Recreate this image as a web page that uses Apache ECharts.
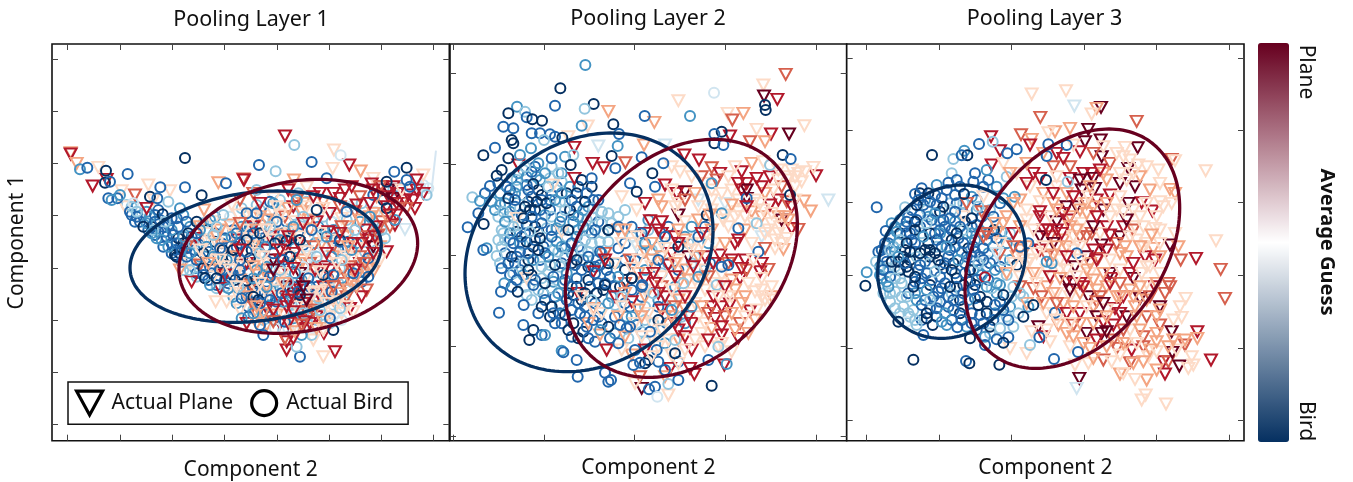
<!DOCTYPE html>
<html><head><meta charset="utf-8">
<script src="https://cdn.jsdelivr.net/npm/echarts@6/dist/echarts.min.js"></script>
<style>html,body{margin:0;padding:0;background:#fff}#c{width:1353px;height:482px}</style>
</head><body><div id="c"></div>
<script>
// Flat lists of: component 2, component 1, average-guess level (0 bird .. 9 plane)
const p1Plane=[735,318,8,92,368,6,92,372,8,110,400,6,175,412,5,158,468,8,200,448,8,245,482,5,285,495,7,325,465,5,390,482,5,340,510,5,255,530,5,320,535,8,882,360,5,878,415,5,928,405,8,962,423,6,762,450,6,610,447,7,612,450,8,535,458,6,492,540,6,1000,445,5,995,462,8,1025,470,8,1045,480,9,1075,490,8,1095,510,8,1125,535,8,1150,435,5,1130,450,8,1150,490,8,1095,598,4,1040,665,8,980,780,7,965,800,8,930,835,8,885,965,8,850,980,5,852,910,8,820,930,5,740,935,8,740,960,8,735,925,7,455,755,8,540,775,8,527,815,5,560,815,5,
640,490,7,700,505,5,745,480,8,800,472,5,880,490,8,915,480,8,960,500,7,1010,500,6,1060,505,9,1085,520,7,1040,530,8,790,520,6,850,515,6,760,530,8,600,510,7,575,525,5,1105,495,8,1070,520,8,1020,470,7,935,470,8,
620,550,5,660,560,6,700,548,5,735,560,7,785,545,6,830,575,8,870,550,8,905,565,5,945,545,7,990,560,6,1025,575,7,1065,585,8,1010,590,8,540,600,6,480,590,6,520,575,5,570,585,6,640,590,8,715,580,5,765,575,5,810,600,6,865,605,8,925,590,6,975,600,8,595,555,5,745,535,6,800,530,5,900,530,7,1040,560,6,
440,650,7,500,630,5,560,650,6,610,625,5,665,640,5,720,615,6,775,640,8,820,650,7,870,630,5,920,620,6,950,655,5,985,630,8,1000,650,9,1015,615,7,470,625,8,530,640,5,590,630,8,640,650,6,690,620,8,750,610,5,845,640,6,890,650,5,
450,700,5,530,690,5,590,680,6,650,670,5,700,690,9,735,710,8,790,690,6,830,695,5,880,680,6,910,720,7,960,700,8,1000,690,6,960,680,7,420,720,6,480,705,7,560,710,5,620,700,8,670,700,5,765,670,8,810,680,4,855,710,8,935,690,5,985,715,6,1020,690,5,
520,740,5,600,750,6,650,735,6,690,745,7,740,770,9,800,740,5,850,770,8,910,760,7,950,740,6,975,720,6,555,735,8,635,765,7,715,745,5,770,760,8,825,720,8,885,740,6,1000,725,6,
620,800,6,680,790,5,760,800,8,820,785,5,835,790,8,810,800,5,880,810,6,920,800,7,590,790,5,650,775,5,715,800,8,790,820,8,950,770,6,860,790,7,770,830,5,
650,850,6,710,855,6,780,870,8,830,860,8,880,840,5,940,845,5,620,880,8,680,885,6,760,890,5,810,880,8,850,875,6,730,850,5,800,845,7,905,850,5,680,835,8,640,825,7,760,845,8,830,830,6];
const p1PlaneFill=[770,510,7,820,500,8,900,505,8,950,525,8,1000,480,8,1060,470,8,1085,480,5,1120,510,8,1130,480,8,1045,500,8,1070,555,8,1050,590,7,640,560,5,680,570,6,720,555,5,760,600,6,810,570,6,850,535,5,905,590,7,960,570,6,1000,550,6,610,600,5,650,600,6,700,630,5,735,650,8,780,620,5,840,610,5,880,650,7,940,640,8,975,620,7,1020,650,6,500,610,5,530,620,6,580,610,5,640,630,5,680,660,8,745,680,5,810,700,7,870,720,8,930,710,7,500,680,5,550,670,5,600,700,5,640,690,5,720,690,8,780,700,6,920,680,5,540,720,6,600,710,5,670,720,6,730,730,5,780,730,9,850,740,6,930,750,6,1000,710,5,610,770,6,680,770,6,710,780,5,770,780,8,860,780,5,900,790,6,600,840,5,670,850,6,740,830,8,820,840,7,870,860,5,920,830,5,650,880,6,720,880,8,800,895,8,850,900,5];
const p1PlaneTop=[660,520,8,710,530,5,840,490,8,990,520,8,1050,555,8,1100,535,7,600,580,7,680,600,5,745,620,8,790,580,8,900,610,8,965,640,8,1005,620,8,480,660,5,540,690,5,600,660,8,670,680,5,720,660,8,800,665,5,860,670,8,925,650,6,975,700,7,1000,670,8,505,700,6,570,720,5,640,710,6,700,720,9,760,715,8,840,725,5,890,700,5,945,720,8,590,770,5,660,760,5,730,760,6,790,770,9,820,790,5,840,785,5,880,770,7,925,780,6,650,830,6,700,840,8,745,810,8,800,810,9,860,820,5,895,815,5,700,875,7,745,880,8,795,875,8,830,895,6,765,905,6,785,885,7,760,925,8];
const p1Bird=[120,418,2,142,413,1,198,422,0,263,432,1,435,384,0,657,405,1,707,424,3,763,345,3,815,396,1,902,376,4,1100,413,0,1063,425,1,558,460,1,435,472,1,361,472,1,485,496,0,
195,458,0,210,455,1,205,505,1,232,505,1,215,510,2,240,495,2,275,530,3,270,545,1,290,560,1,300,575,1,330,500,0,352,505,1,385,515,3,420,535,2,280,520,4,320,580,2,345,575,1,368,553,0,370,590,1,395,600,2,340,600,3,365,630,2,400,615,1,385,650,2,410,640,1,440,575,1,470,575,0,510,570,2,410,680,0,440,680,1,430,620,2,460,640,3,470,610,1,290,545,3,310,590,0,335,610,2,375,575,3,415,590,1,445,610,0,425,660,1,
550,555,3,620,550,1,690,515,1,700,520,2,650,480,3,770,510,2,830,540,0,860,445,1,920,545,1,1040,535,0,1000,495,1,1065,570,2,1110,470,1,1160,495,3,1100,450,1,1040,455,0,
480,600,2,500,650,2,520,615,3,548,660,0,590,610,1,600,640,1,640,610,1,660,610,0,710,575,1,720,630,2,705,640,0,740,632,0,780,630,0,815,600,1,860,620,2,900,630,0,900,635,1,945,600,3,990,560,2,1035,625,3,650,550,1,690,590,3,530,590,3,575,620,2,620,630,0,675,650,2,760,590,2,790,560,3,
470,690,1,490,670,0,490,715,0,520,680,2,560,690,2,600,690,1,630,685,0,660,670,3,700,670,1,750,680,0,790,710,4,875,680,2,905,690,3,985,685,1,450,670,2,540,655,1,580,660,0,620,665,1,680,710,2,730,690,1,830,680,3,935,660,2,
490,735,1,495,745,0,510,765,2,540,720,1,585,750,0,620,752,0,565,775,2,650,720,2,690,740,1,765,730,2,805,745,1,850,735,0,880,735,1,940,730,1,985,740,1,450,720,3,530,745,0,600,720,1,720,720,3,570,740,1,640,745,2,
605,805,1,640,800,0,655,810,0,660,820,1,730,815,2,725,790,1,780,795,0,775,785,1,875,785,1,835,805,3,595,770,3,680,770,2,745,755,3,690,810,1,810,770,1,
605,865,2,660,885,1,735,875,1,790,850,3,870,865,1,900,835,3,880,900,0,670,915,1,780,980,1,770,950,3,815,915,3,785,915,2,705,895,4,840,840,3,905,870,4,640,850,2];
const p1BirdUnder=[260,525,3,290,530,2,300,545,4,330,560,2,355,540,1,395,565,1,430,555,2,285,575,1,325,600,1,355,605,1,385,585,1,410,565,1,450,590,2,490,580,3,525,560,2,570,560,4,605,535,3,650,525,3,720,540,3,690,545,1,760,555,3,800,515,3,850,560,3,890,550,4,930,530,4,965,520,3,1005,545,4,350,625,2,380,620,1,405,660,1,430,640,0,455,620,1,495,630,1,525,635,0,555,625,1,605,590,2,635,575,3,665,585,2,745,600,3,775,610,1,835,620,3,880,600,2,925,610,3,965,625,4,1005,600,3,405,675,0,425,695,1,465,660,1,505,665,1,535,680,1,575,680,0,645,640,1,685,630,1,765,655,2,800,660,3,850,650,4,895,660,1,925,635,1,975,665,3,1010,660,3,430,720,3,465,715,2,510,710,1,545,700,0,585,710,1,610,700,1,655,695,2,700,710,3,745,700,1,770,695,2,820,710,3,860,690,4,900,715,3,955,710,3,1000,700,2,470,740,3,515,730,1,555,750,1,600,735,1,625,730,1,670,735,1,705,755,2,735,745,3,785,750,2,830,755,3,865,745,1,905,745,2,965,755,1,530,775,3,565,760,1,610,780,1,640,770,1,665,790,1,700,780,3,755,790,2,800,790,2,845,780,1,900,780,3,930,775,4,590,820,2,625,830,1,680,825,2,710,815,1,755,825,3,815,825,3,850,815,2,880,825,3,915,815,3,625,860,1,690,860,2,760,865,2,830,870,3,870,880,3,730,900,3,790,895,4,700,870,1];
const p1BirdFill=[275,555,1,305,555,3,320,545,2,345,555,1,335,590,0,360,570,1,375,605,1,345,615,1,395,640,1,370,650,1,415,625,0,395,670,1,420,670,0,440,655,1,445,700,3,480,645,1,480,680,2,510,690,0,470,730,1,505,750,1,530,765,1,555,770,3,580,800,2,560,720,2,525,610,1,500,600,0,555,600,2,545,640,1,590,650,1,615,610,3,650,625,2,635,660,0,670,625,1,700,600,3,730,610,1,755,625,0,790,645,1,825,640,2,855,605,0,885,625,1,915,650,3,950,640,2,990,620,3,1025,600,3,580,735,1,610,760,1,650,755,0,680,755,1,720,770,2,760,770,1,790,770,0,830,770,1,860,760,2,895,760,3,935,755,3,975,725,2,1000,680,3,645,790,1,620,800,1,680,800,1,710,800,2,750,810,1,790,810,2,830,815,3,870,800,3,640,840,3,680,850,1,725,845,2,760,850,3,800,860,3,845,855,3,890,850,4,670,870,3,745,895,4,820,895,4,630,590,1,580,600,1,620,590,1,700,570,3,740,575,1,780,580,3,835,590,2,875,575,3,920,570,3,960,575,2,1000,575,3,660,540,3,720,510,3,775,490,3,1030,510,0,1060,480,3,1080,475,2,1140,470,4,1165,475,4,1150,465,4];
const p1Streak=[1188,362,1172,505];
const p2Plane=[1022,133,7,955,165,5,957,198,9,997,208,8,700,212,5,848,250,5,895,250,6,490,244,6,628,277,6,428,288,5,862,270,7,1078,287,5,1032,312,9,978,312,8,855,318,8,935,298,5,915,335,7,960,335,6,370,320,5,388,352,8,460,348,4,597,345,6,660,345,4,718,375,8,762,390,8,443,400,8,476,413,8,541,398,7,220,405,8,388,445,8,325,465,5,800,413,7,825,430,8,705,425,5,680,410,5,1113,437,8,1105,412,5,1040,420,5,1060,430,5,1080,425,5,1150,510,4,1097,543,6,1077,513,6,1060,598,7,1015,658,6,990,655,5,
890,425,8,935,445,8,975,440,8,905,460,8,850,440,5,780,460,5,860,480,5,905,505,9,975,525,8,1000,510,8,1025,515,7,1040,530,8,1010,570,9,1040,595,8,950,560,6,920,545,6,880,545,5,840,520,4,800,480,5,720,485,9,695,490,8,660,465,8,640,510,6,600,520,8,530,500,5,575,540,5,
700,555,9,720,575,5,650,575,8,615,572,8,760,570,6,800,600,6,850,590,5,900,600,6,950,620,4,1000,610,5,1025,625,5,960,655,7,870,640,8,825,675,8,730,680,9,680,670,8,650,640,5,600,610,8,570,640,5,520,600,6,480,670,7,510,700,5,445,725,8,575,650,4,620,690,6,
900,690,8,885,745,8,945,725,8,970,718,7,830,735,5,780,720,5,720,720,6,670,705,8,620,710,5,580,730,6,600,745,8,540,760,7,510,800,8,400,790,8,560,815,8,470,850,5,445,835,6,430,880,6,660,800,8,650,840,8,700,810,6,740,790,5,780,780,5,805,800,8,860,750,6,930,785,5,980,800,6,
830,830,8,855,822,8,915,843,8,885,880,7,975,810,5,810,865,8,760,860,5,740,880,8,720,835,6,690,880,8,660,860,6,610,850,5,570,880,5,520,860,6,465,915,6,770,910,5,830,915,8,800,895,6,700,930,6,880,925,8,910,910,6,
485,960,8,560,975,6,530,960,5,740,960,8,640,950,5,680,975,5,720,960,5,675,1015,8,735,1015,8,748,1033,8,838,1005,8,590,1075,9,585,1040,7,570,1060,5,670,1095,5,820,950,5,860,965,5,
1000,560,6,985,480,5,1050,470,5,1070,455,5,1030,450,5,960,490,6,930,510,5,800,510,5,760,510,4,700,520,5,840,555,5,880,510,5,810,640,5,770,640,5,720,630,6,690,620,8,640,600,8,970,600,5,925,580,5,780,680,8,850,700,7,700,760,6,750,750,5,650,770,7,600,800,6,810,760,5,900,800,6,860,800,5,950,780,5,960,810,5,350,605,5,215,565,5,245,745,5];
const p2PlaneFill=[870,410,5,920,400,6,955,395,5,1000,420,5,1030,440,5,1050,510,5,1010,470,7,950,470,8,890,480,8,815,450,7,770,440,7,740,440,5,680,480,5,720,510,7,760,530,5,800,540,5,860,525,6,900,560,5,945,520,5,980,550,5,1030,570,6,650,530,6,690,530,5,650,610,8,700,600,6,740,640,5,785,610,5,840,640,6,880,630,8,920,640,5,990,630,5,530,640,5,555,690,7,600,665,6,650,680,6,700,690,5,760,680,6,805,700,8,860,690,8,905,720,7,950,700,8,560,715,5,650,740,5,690,740,8,730,750,6,770,750,6,830,760,5,870,780,6,910,760,5,950,800,5,980,770,5,540,790,6,600,780,5,640,790,8,690,830,7,750,820,5,800,830,8,850,800,5,890,820,6,935,840,5,580,840,6,620,880,5,680,860,6,730,860,8,780,880,5,840,860,7,870,900,6,930,870,6,540,920,6,620,920,5,670,930,5,720,920,8,780,950,5,830,940,5,600,960,8,700,1000,5,660,1040,6];
const p2PlaneTop=[540,600,6,575,620,5,620,640,6,660,655,5,700,640,8,740,660,5,770,610,8,795,555,6,835,570,5,870,560,5,905,530,8,955,540,5,980,580,5,1005,590,5,580,690,5,625,730,8,690,700,6,745,710,8,790,740,7,840,770,8,890,715,8,925,690,5,950,745,5,530,830,5,590,860,6,630,760,8,680,780,5,720,800,8,770,830,6,820,800,5,860,850,6,900,860,5,790,850,7,650,900,5,700,900,8,750,930,5,790,930,8,830,890,8,590,920,5,620,980,5,750,490,6,830,490,5,905,480,9,880,460,8,1000,450,5,1050,440,5,1020,560,6,960,610,5,1010,640,5,480,690,8,445,840,5,410,800,5];
const p2Bird=[421,105,2,346,175,0,446,222,0,330,227,1,419,236,3,216,230,2,240,245,3,190,250,0,245,262,1,262,268,0,291,272,0,175,290,1,205,295,1,410,287,2,505,283,0,522,312,1,599,258,1,735,258,2,807,188,4,960,225,0,962,240,0,830,305,0,808,312,1,808,340,0,835,345,1,260,310,1,285,310,1,315,313,1,330,320,1,352,323,0,205,340,0,200,330,0,150,353,1,115,376,0,190,385,0,225,375,2,258,355,2,297,330,3,320,385,1,360,380,2,385,375,3,377,405,0,500,378,0,518,348,2,511,415,1,590,382,1,655,400,1,622,430,0,1013,375,0,1037,387,1,975,405,3,
170,420,0,155,437,0,135,468,1,120,490,1,82,502,3,105,513,2,140,515,2,150,540,2,100,550,1,116,582,0,68,592,1,125,655,2,115,660,1,155,678,3,170,715,1,178,760,2,168,785,1,218,785,0,236,825,1,162,848,1,235,885,1,265,900,0,253,930,0,290,915,1,300,915,2,350,962,2,355,967,1,395,990,1,398,1040,1,480,1028,1,490,1055,1,498,1050,1,600,1000,0,630,1070,1,612,1078,1,637,1100,4,670,1062,3,700,1050,1,800,1067,0,845,1002,2,
220,430,2,260,425,1,300,430,2,340,430,3,410,450,0,440,445,1,190,505,0,215,470,2,265,462,0,250,480,1,310,470,3,350,490,2,380,510,1,420,515,0,445,510,1,240,410,3,280,400,2,175,545,3,210,510,1,240,530,0,275,515,0,305,520,0,330,510,2,360,540,3,400,560,2,440,560,3,470,545,3,
180,575,2,205,590,3,235,565,0,260,560,1,290,580,1,320,560,3,345,575,2,370,600,0,415,590,2,450,600,1,490,600,0,180,630,3,205,640,1,230,620,1,255,605,3,285,625,0,320,620,1,350,650,2,380,640,1,420,630,3,465,635,3,
200,680,0,225,665,1,250,670,1,280,660,0,310,680,2,330,705,0,360,680,3,395,690,0,430,680,1,465,665,1,490,700,0,190,700,1,250,720,0,290,710,3,325,740,1,365,730,2,410,720,1,450,730,1,480,760,1,520,740,2,
215,750,1,265,765,1,300,760,0,340,790,2,380,770,1,420,790,0,455,790,0,480,765,0,560,745,0,592,765,1,365,810,1,400,820,1,440,810,3,490,820,2,530,800,3,290,830,0,325,850,1,360,855,0,405,850,1,445,870,1,490,890,0,525,885,1,555,890,1,330,880,1,370,900,0,400,925,0,430,925,1,465,900,2,615,905,1,640,870,0,520,940,1,
590,610,1,520,590,1,490,600,0,555,460,1,575,485,0,630,470,1,540,540,3,470,545,3,600,640,2,660,620,1,700,650,0,740,590,2,760,620,1,785,555,0,800,460,2,830,550,2,880,595,1,935,580,3,905,505,1,1035,495,0,940,665,1,830,710,1,850,705,1,760,740,2,715,760,3,815,765,3,640,690,1,590,770,1,560,745,0,680,840,2,625,790,3,
635,960,1,690,970,0,640,995,1,585,998,1,565,1005,1,690,930,3,660,1020,1,570,960,1,820,950,3,790,990,1,740,830,2];
const p2BirdUnder=[215,450,3,245,440,2,285,450,2,315,445,3,350,455,3,375,470,2,165,490,2,195,480,1,230,495,3,260,500,1,290,495,0,320,495,1,345,515,3,395,490,0,425,490,1,160,560,3,195,545,2,225,535,3,255,540,0,285,540,1,315,540,1,375,540,0,415,540,2,445,535,3,170,600,3,195,610,2,220,585,3,245,585,1,270,590,0,305,595,3,335,595,2,385,575,2,430,600,3,470,580,3,170,650,3,225,640,2,245,635,0,270,630,1,305,640,3,335,635,2,365,620,3,395,620,2,440,640,3,490,635,3,165,700,3,210,700,1,235,700,3,265,690,2,300,670,1,340,665,3,380,670,2,410,660,3,455,690,2,205,730,3,235,735,2,270,750,1,310,725,3,345,710,3,390,705,1,430,710,0,465,705,1,240,770,3,280,780,3,320,775,3,355,760,2,395,745,1,430,750,0,460,760,1,495,740,1,525,770,0,260,810,3,300,810,1,345,825,2,385,795,0,420,830,1,465,835,2,510,825,3,555,830,1,320,830,0,350,880,1,385,880,0,425,890,1,460,860,1,510,910,2,550,925,3,590,905,3,625,880,3,520,560,3,560,590,1,610,600,3,640,650,2,670,590,1,720,620,2,780,590,1,570,690,1,600,720,2,540,720,0,650,730,3,690,770,2,740,700,3,780,720,3,590,800,1,640,830,1,560,860,2,600,870,3,650,900,3,600,935,3,660,940,2,710,860,3];
const p2BirdFill=[200,445,1,235,420,3,270,410,1,320,410,3,350,430,2,275,440,2,245,465,1,185,470,1,160,460,1,210,490,2,280,480,0,335,470,1,365,490,0,400,470,1,440,470,0,180,520,2,210,530,1,250,515,0,290,510,1,315,510,1,360,515,3,395,530,1,430,530,2,460,510,1,165,525,2,190,560,3,230,555,1,270,540,0,300,555,2,350,560,1,385,555,1,425,570,3,460,575,1,490,550,3,175,610,3,215,605,0,240,610,1,280,605,0,320,600,1,355,600,3,400,600,2,440,610,1,475,610,3,500,580,3,160,630,3,195,630,1,235,645,3,265,650,0,295,650,1,325,660,2,360,655,1,400,650,1,430,665,3,470,670,2,180,670,1,215,680,1,250,690,0,285,690,1,315,705,3,350,700,1,380,700,0,415,690,2,450,710,1,485,720,1,510,700,2,195,735,1,225,720,1,260,735,0,290,745,3,325,755,2,360,750,1,395,770,0,435,770,1,475,780,0,510,770,1,200,770,1,245,795,3,295,790,2,330,800,1,370,790,0,410,810,0,450,820,1,500,800,2,540,820,1,280,850,1,315,860,0,345,850,1,380,840,1,420,860,1,470,880,1,510,860,1,545,860,2,380,920,1,415,905,0,450,935,1,495,925,1,545,895,1,575,885,1,540,640,1,590,670,1,620,660,3,630,710,1,670,700,2,700,720,1,730,640,3,750,680,3,790,640,2,795,700,1,610,570,2,560,620,3,520,655,1,540,690,1,560,780,1,600,830,3,640,810,2,680,810,3,720,880,2,665,880,1,700,995,1,610,990,0];
const p3Plane=[575,192,5,678,182,5,703,228,4,783,232,9,770,235,6,755,252,5,601,262,7,890,274,7,745,298,9,645,305,6,625,308,5,690,295,6,735,335,9,782,330,9,543,314,7,453,320,8,575,328,6,570,345,8,480,362,8,720,365,8,650,370,8,893,353,9,855,352,5,995,388,7,1005,392,5,1097,422,5,955,420,5,865,415,9,895,405,5,840,460,9,885,470,9,930,480,6,990,478,6,1005,490,6,995,520,5,905,518,8,937,543,8,960,515,5,865,520,9,680,530,9,710,530,9,
455,405,8,490,400,5,580,430,8,530,430,5,640,410,7,690,410,7,730,430,8,755,430,8,785,380,9,810,400,7,790,350,5,725,480,9,765,475,9,770,510,8,810,495,8,650,470,5,610,490,6,570,470,5,540,510,6,600,515,5,
430,500,5,380,520,7,425,545,7,370,560,5,490,580,6,520,610,8,470,610,6,600,560,8,650,575,9,685,570,8,725,580,5,755,610,7,800,590,8,850,590,8,885,590,5,945,595,5,1005,610,5,1128,632,5,
785,645,9,840,620,9,990,645,9,1015,650,6,1022,690,7,1068,685,8,940,655,6,915,680,8,945,690,8,890,630,5,840,670,6,775,685,7,740,680,9,705,710,9,670,630,6,630,620,7,600,660,8,560,650,6,540,660,6,480,670,7,430,695,4,1142,718,7,
560,700,5,620,680,7,660,720,5,750,730,5,810,730,9,815,745,8,880,745,9,930,710,5,985,760,7,990,770,7,945,770,8,960,830,9,1155,805,7,1037,805,5,900,805,9,850,800,8,800,770,6,735,760,6,680,755,9,700,760,8,620,770,6,580,775,7,
560,820,6,605,800,7,650,790,5,690,800,5,745,800,9,770,815,7,825,835,8,860,860,9,920,860,7,1020,830,5,1025,862,5,960,885,7,995,905,9,1072,905,8,1072,925,6,1035,945,7,1035,930,6,950,910,6,
595,890,9,655,885,6,700,885,7,720,850,8,790,875,8,820,885,8,740,910,9,785,910,9,610,920,8,575,905,5,630,935,5,560,970,5,510,955,5,690,950,5,830,955,7,875,960,8,910,950,7,925,980,5,870,900,5,
790,990,7,745,1000,5,705,1005,5,815,995,5,870,998,7,910,995,6,970,995,8,985,995,7,997,967,9,1018,1008,9,1113,990,8,1055,980,5,1060,1005,5,1045,1015,5,975,1032,8,950,1020,6,920,1050,6,885,1048,5,840,1032,6,718,1045,9,710,1075,4,917,1095,5,905,1110,5,978,1122,5,
610,600,8,640,640,9,680,650,6,720,620,7,880,600,7,920,640,5,960,600,5,700,660,5,760,660,8,660,690,5,590,730,5,720,790,6,760,830,6,800,840,5,840,720,5,880,800,6,920,760,5,640,850,5,670,820,6,740,720,6,690,560,6,830,540,5,790,430,6,860,450,5,850,380,5,800,450,6,730,520,5,640,520,6,560,570,5];
const p3PlaneFill=[510,430,6,560,400,6,610,370,6,670,385,8,700,345,5,760,370,7,830,370,5,870,390,5,920,410,5,560,460,8,600,445,8,650,440,5,690,445,8,760,445,9,840,430,5,900,440,6,960,460,5,640,490,8,680,490,6,740,520,6,790,540,9,840,500,5,880,540,5,920,520,5,970,530,5,630,560,5,670,550,8,720,540,6,760,530,6,810,560,5,860,570,9,910,590,5,600,620,9,650,600,8,690,590,6,740,620,7,780,610,5,830,640,7,870,620,5,960,640,5,530,680,6,570,690,5,610,650,5,650,650,6,720,650,5,750,700,6,800,660,8,860,680,6,910,650,5,960,680,6,580,730,6,620,720,5,680,720,5,720,760,8,770,780,6,810,760,8,870,730,8,905,730,5,960,730,5,540,770,7,640,790,6,690,780,9,730,770,8,780,800,7,830,800,6,870,780,6,920,810,6,975,790,7,620,850,5,680,850,8,720,880,6,770,860,9,800,860,6,840,850,8,890,860,6,950,860,6,1000,870,5,680,910,6,730,940,6,770,930,8,820,930,7,860,940,6,910,920,7,985,950,6,930,960,6,760,985,6,840,975,5,880,1000,6,950,965,5,1010,960,5,850,1030,5];
const p3PlaneTop=[520,520,6,560,540,5,600,545,8,650,540,6,700,500,8,745,500,5,800,520,6,850,545,5,900,560,5,950,560,5,500,560,6,540,590,6,580,600,5,625,600,8,665,610,8,700,620,5,760,590,9,810,615,8,855,650,6,900,650,6,935,615,6,440,610,7,480,640,5,520,650,7,550,690,5,590,670,5,640,675,6,680,680,8,720,690,5,770,690,8,810,690,5,880,700,8,920,710,5,500,730,6,540,740,5,590,760,5,630,740,8,660,745,6,710,740,5,760,750,6,790,730,6,840,760,7,900,770,6,950,760,6,470,670,4,430,620,7,520,700,5,465,580,6,610,820,6,650,820,7,700,830,6,740,830,5,790,820,9,840,800,6,885,830,6,930,800,7,960,840,6,650,870,5,690,880,5,760,880,6,800,905,9,850,900,7,900,900,6,950,935,6,1000,930,6,700,920,6,750,955,6,800,950,6,850,940,6,890,940,5,620,900,5,710,600,6,740,550,6,770,560,8,880,430,5,780,420,8,720,450,9,750,470,6];
const p3Bird=[276,375,0,340,387,3,373,362,2,382,376,0,365,376,1,417,342,1,458,335,3,625,343,1,680,345,1,620,378,1,530,358,1,502,370,1,405,430,1,335,430,3,350,450,1,325,458,1,290,465,2,245,475,1,225,492,1,265,490,0,110,532,1,195,532,3,155,580,2,137,603,1,225,575,0,80,727,2,76,767,0,115,665,1,108,695,3,618,450,0,683,455,3,524,500,2,445,450,1,440,420,2,
235,510,1,270,515,1,305,505,1,345,495,1,372,492,0,230,525,0,310,530,0,345,545,1,395,565,0,440,580,2,462,600,0,180,570,2,200,575,1,225,600,0,260,580,3,285,550,2,310,570,1,360,590,1,150,620,2,175,640,2,215,630,1,250,620,2,290,630,1,335,630,0,370,640,1,405,630,2,430,655,1,470,625,1,
130,680,1,155,695,0,180,720,0,210,665,0,240,670,0,270,660,0,295,690,0,325,680,1,355,690,2,395,680,1,430,690,1,465,720,2,530,705,0,540,650,1,565,640,1,710,670,1,635,700,2,130,720,1,225,740,0,260,730,1,300,740,1,335,720,0,375,730,1,410,750,1,435,742,8,455,775,3,195,700,1,165,745,3,
145,770,2,185,760,3,220,770,0,260,780,2,295,785,1,330,770,0,370,790,1,400,780,1,440,770,2,490,795,0,540,790,3,150,815,3,190,830,3,230,810,2,260,850,0,290,835,1,315,850,2,370,830,1,415,825,0,465,825,1,580,825,0,645,848,1,175,875,0,225,870,3,230,885,3,278,885,0,305,875,2,352,892,1,365,870,1,430,880,1,
250,915,1,390,925,0,435,920,2,450,890,0,480,895,3,505,870,1,550,860,0,505,922,1,470,928,1,490,938,0,435,945,1,570,945,3,598,922,1,220,989,0,378,993,1,388,1000,0,478,1004,0,642,987,1,714,966,1,
200,640,0,240,705,1,285,725,3,320,650,2,350,610,0,150,660,3,175,680,2,200,800,3,270,810,3,340,810,1,390,720,0,415,700,3,470,760,2,520,770,3,620,695,2,500,640,2,460,560,1,415,530,3,480,520,1];
const p3BirdUnder=[260,540,3,290,525,1,330,520,3,370,520,3,410,510,1,205,560,1,240,555,1,275,570,1,315,590,1,345,575,2,395,590,1,425,560,1,170,605,2,200,610,1,240,590,1,270,610,0,300,600,1,335,600,1,380,610,2,420,605,2,135,640,1,160,650,2,195,660,0,225,640,1,265,640,0,305,650,1,345,650,1,385,655,0,420,680,1,460,650,2,510,610,3,120,710,2,145,715,3,175,695,0,210,690,0,255,695,1,285,670,0,315,700,1,375,700,1,405,665,1,440,710,2,490,690,3,125,745,2,150,740,1,205,725,0,245,745,1,275,750,1,310,715,1,350,745,0,390,755,0,425,735,2,500,735,3,130,790,3,165,785,3,205,790,1,240,760,1,280,800,1,315,760,1,350,770,1,385,810,2,420,800,0,470,790,2,515,800,3,165,835,3,205,850,3,245,825,1,300,815,1,340,840,1,395,850,1,440,850,0,490,840,1,535,850,3,565,830,2,200,875,4,260,865,0,335,870,1,395,880,1,460,870,1,520,890,3,480,895,4,300,610,2,180,630,3,230,680,3,270,700,3,335,790,3,400,720,2,370,600,3];
const p3BirdFill=[240,490,0,255,510,2,285,495,1,320,480,1,360,470,1,400,455,1,430,470,1,470,470,2,500,440,3,395,500,2,350,520,1,215,540,1,250,525,1,300,545,0,335,540,3,370,550,1,410,540,2,450,540,3,490,505,2,165,590,2,195,590,1,230,570,1,265,560,2,300,575,2,330,565,1,375,575,0,410,585,1,445,610,1,145,640,1,180,610,0,210,610,1,245,610,3,285,610,1,320,620,1,355,625,1,395,610,2,440,630,1,485,605,2,125,660,1,165,665,2,190,680,0,225,665,1,255,660,0,290,650,3,330,660,1,365,665,2,400,650,1,445,670,2,140,695,1,165,710,3,200,710,0,235,720,1,270,680,0,300,705,0,340,700,0,380,680,1,415,720,1,450,700,1,480,710,1,510,690,2,120,735,2,140,755,2,180,745,3,225,755,1,270,765,0,305,775,1,345,730,1,370,765,0,405,765,0,445,750,1,480,765,2,150,790,3,185,800,3,225,790,2,255,810,1,290,815,3,325,800,1,360,810,0,405,805,1,440,815,0,480,815,1,510,830,2,180,850,3,220,840,3,270,835,1,325,830,1,360,850,0,420,855,1,465,850,2,500,860,3,550,800,3,210,860,3,245,870,1,290,860,1,320,885,2,380,890,2,410,900,1,450,910,3];
const axisTicks={p1x:[83,240,397,554,711,868,1025,1181],p1y:[87,243,400,557,714,871,1027,1184],p2x:[25,297,569,841,1113],p2y:[131,403,675,948,1219],p3x:[80,297,515,733,950,1168],p3y:[84,300,518,736,955,1172]};
const axisRanges=[{x:[36,1228],y:[42,1232]},{x:[15,1205],y:[42,1232]},{x:[20,1212],y:[42,1232]}];
// Ellipses: centre, half-width, half-height, correlation
const p1BirdEllipse=[647,680,377,197,-0.17], p1PlaneEllipse=[775,679,358,231,-0.17];
const p2BirdEllipse=[432,667,372,358,-0.18], p2PlaneEllipse=[709,685,348,357,-0.28];
const p3BirdEllipse=[335,695,222,230,-0.14], p3PlaneEllipse=[697,656,322,359,-0.34];
const guessColors=['#053061','#2166ac','#4393c3','#92c5de','#d1e5f0','#fddbc7','#f4a582','#d6604d','#b2182b','#67001f'];
const panelNames=['Pooling Layer 1','Pooling Layer 2','Pooling Layer 3'];
const FONT='"Noto Sans"';
const INVTRI='path://M0 0L12 0L6 11Z';

function triples(a){const o=[];for(let i=0;i+2<a.length;i+=3)o.push({value:[a[i],a[i+1],a[i+2]],itemStyle:{borderColor:guessColors[a[i+2]]}});return o;}
function marks(name,g,arr,symbol,size){return {type:'scatter',name,xAxisIndex:g*2,yAxisIndex:g*2,symbol,symbolSize:size,data:triples(arr),silent:true,
  itemStyle:{color:'rgba(255,255,255,0)',borderWidth:2,opacity:1},z:3};}
function ellipse(g,p,color){const [cx,cy,wx,wy,r]=p,d=[];for(let i=0;i<=180;i++){const t=i/180*2*Math.PI;d.push([cx+wx*Math.cos(t),cy+wy*(r*Math.cos(t)+Math.sqrt(1-r*r)*Math.sin(t))]);}
  return {type:'line',xAxisIndex:g*2,yAxisIndex:g*2,data:d,showSymbol:false,silent:true,lineStyle:{color,width:3.3},z:5};}

const grids=[{left:52,top:44,width:397.3,height:396.7},{left:450,top:44,width:396.7,height:396.7},{left:846.7,top:44,width:397.3,height:396.7}];
const tickKeys=[['p1x','p1y'],['p2x','p2y'],['p3x','p3y']];
const xAxes=[],yAxes=[];
const tickStyle=(vals)=>({show:true,inside:true,length:6,customValues:vals,lineStyle:{color:'#444',width:1}});
grids.forEach((gr,i)=>{const [kx,ky]=tickKeys[i];const r=axisRanges[i];
  [['bottom'],['top']].forEach(([pos],j)=>xAxes.push({type:'value',gridIndex:i,position:pos,min:r.x[0],max:r.x[1],splitLine:{show:false},axisLine:{show:false},axisLabel:{show:false},axisTick:tickStyle(axisTicks[kx]),
    name:j===0?'Component 2':'',nameLocation:'middle',nameGap:i===0?19:17,nameTextStyle:{fontFamily:FONT,fontSize:21,color:'#111'}}));
  [['left'],['right']].forEach(([pos],j)=>yAxes.push({type:'value',gridIndex:i,position:pos,inverse:true,min:r.y[0],max:r.y[1],splitLine:{show:false},axisLine:{show:false},axisLabel:{show:false},axisTick:tickStyle(axisTicks[ky]),
    name:(i===0&&j===0)?'Component 1':'',nameLocation:'middle',nameRotate:90,nameGap:24,nameTextStyle:{fontFamily:FONT,fontSize:21,color:'#111'}}));
});
function panel(g,birdFill,birdUnder,plane,planeFill,bird,planeTop,birdName,planeName){const T=[12,11];return [
 marks('Bird fill '+(g+1),g,birdFill,'circle',10),marks('Bird under '+(g+1),g,birdUnder,'circle',10),marks(planeName,g,plane,INVTRI,T),marks('Plane fill '+(g+1),g,planeFill,INVTRI,T),marks(birdName,g,bird,'circle',10),marks('Plane top '+(g+1),g,planeTop,INVTRI,T)];}
const series=[
 ...panel(0,p1BirdFill,p1BirdUnder,p1Plane,p1PlaneFill,p1Bird,p1PlaneTop,'Actual Bird','Actual Plane'),
 {type:'line',xAxisIndex:0,yAxisIndex:0,data:[[p1Streak[0],p1Streak[1]],[p1Streak[2],p1Streak[3]]],showSymbol:false,silent:true,lineStyle:{color:'#d6e6f2',width:2},z:2},
 ellipse(0,p1BirdEllipse,'#053061'),ellipse(0,p1PlaneEllipse,'#67001f'),
 ...panel(1,p2BirdFill,p2BirdUnder,p2Plane,p2PlaneFill,p2Bird,p2PlaneTop,'Bird 2','Plane 2'),ellipse(1,p2BirdEllipse,'#053061'),ellipse(1,p2PlaneEllipse,'#67001f'),
 ...panel(2,p3BirdFill,p3BirdUnder,p3Plane,p3PlaneFill,p3Bird,p3PlaneTop,'Bird 3','Plane 3'),ellipse(2,p3BirdEllipse,'#053061'),ellipse(2,p3PlaneEllipse,'#67001f')
];
const chart=echarts.init(document.getElementById('c'),null,{renderer:'canvas'});
chart.setOption({animation:false,backgroundColor:'#fff',
 title:panelNames.map((t,i)=>({text:t,left:[246,643,1039.5][i],top:[4,3,3][i],textAlign:'center',textStyle:{fontFamily:FONT,fontSize:21.5,fontWeight:'normal',color:'#111'}})),
 grid:grids.map(g=>Object.assign({show:true,outerBoundsMode:'none',containLabel:false,borderColor:'#111',borderWidth:1.6,backgroundColor:'#fff'},g)),
 xAxis:xAxes,yAxis:yAxes,series,
 legend:{left:68,top:382,orient:'horizontal',padding:[7,15,7,7],itemWidth:26,itemHeight:25,itemGap:17,backgroundColor:'#fff',borderColor:'#111',borderWidth:1.5,borderRadius:0,selectedMode:false,z:20,
   textStyle:{fontFamily:FONT,fontSize:21,color:'#111',padding:[2,0,0,4]},
   data:[{name:'Actual Plane',icon:'path://M0 0L12 0L6 11Z',itemStyle:{color:'rgba(0,0,0,0)',borderColor:'#000',borderWidth:3.2}},
         {name:'Actual Bird',icon:'circle',itemStyle:{color:'rgba(0,0,0,0)',borderColor:'#000',borderWidth:3.2}}]},
 visualMap:{type:'continuous',seriesIndex:[],min:0,max:1,show:true,calculable:false,left:1258,top:43,itemWidth:31,itemHeight:399,padding:0,text:null,showLabel:false,inRange:{color:['#053061','#ffffff','#67001f']}},
 graphic:[
  {type:'text',x:1306,y:72,rotation:-Math.PI/2,style:{text:'Plane',fontFamily:FONT,fontSize:21,fill:'#111',align:'center',verticalAlign:'middle'}},
  {type:'text',x:1306,y:421,rotation:-Math.PI/2,style:{text:'Bird',fontFamily:FONT,fontSize:21,fill:'#111',align:'center',verticalAlign:'middle'}},
  {type:'text',x:1327,y:242,rotation:-Math.PI/2,style:{text:'Average Guess',fontFamily:FONT,fontSize:20,fontWeight:'bold',fill:'#111',align:'center',verticalAlign:'middle'}}
 ]});
</script></body></html>
